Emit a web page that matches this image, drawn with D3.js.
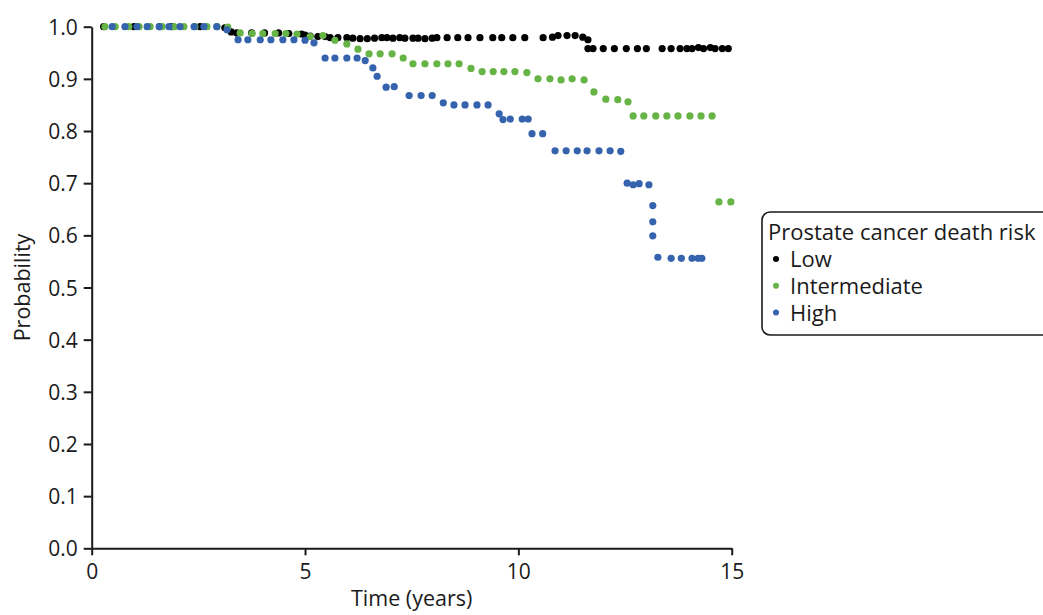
<!DOCTYPE html>
<html>
<head>
<meta charset="utf-8">
<script src="https://cdn.jsdelivr.net/npm/d3@7"></script>
<style>
  html, body { margin: 0; padding: 0; background: #fff; }
  svg { display: block; font-family: "Open Sans", "Noto Sans", sans-serif; }
</style>
</head>
<body>
<svg id="chart" width="1043" height="615"></svg>
<script>
// ---- data ----
const seriesNames = ["Low", "Intermediate", "High"];
const seriesColors = ["#000000", "#66b446", "#3563ae"];
const xTicks = [0, 5, 10, 15];
const yTicks = [0, 0.1, 0.2, 0.3, 0.4, 0.5, 0.6, 0.7, 0.8, 0.9, 1.0];

const lowTime = [0.28, 0.99, 1.60, 1.88, 2.54, 3.12, 3.27, 3.40, 3.75, 4.05, 4.38, 4.62, 4.92, 5.00, 5.12,
  5.30, 5.47, 5.59, 5.77, 5.98, 6.12, 6.29, 6.46, 6.63, 6.80, 6.92, 7.06, 7.22, 7.34, 7.53, 7.65, 7.81, 7.98,
  8.09, 8.33, 8.58, 8.82, 9.10, 9.40, 9.61, 9.87, 10.15, 10.58, 10.80, 10.93, 11.14, 11.33, 11.51, 11.63,
  11.63, 11.75, 11.99, 12.25, 12.53, 12.79, 13.00, 13.37, 13.58, 13.79, 13.95, 14.07, 14.22, 14.34, 14.50,
  14.61, 14.78, 14.92];
const lowProb = [1.0, 1.0, 1.0, 1.0, 1.0, 0.998, 0.99, 0.988, 0.988, 0.988, 0.988, 0.987, 0.986, 0.984, 0.982,
  0.981, 0.981, 0.979, 0.979, 0.979, 0.978, 0.977, 0.977, 0.978, 0.979, 0.979, 0.978, 0.979, 0.978, 0.978, 0.978, 0.977, 0.978,
  0.979, 0.979, 0.979, 0.979, 0.979, 0.979, 0.979, 0.979, 0.979, 0.979, 0.980, 0.983, 0.983, 0.983, 0.980, 0.975,
  0.958, 0.958, 0.958, 0.958, 0.958, 0.958, 0.958, 0.958, 0.958, 0.958, 0.958, 0.958, 0.960, 0.958, 0.960,
  0.958, 0.958, 0.958];

const intTime = [0.31, 0.55, 0.87, 1.11, 1.37, 1.65, 1.93, 2.16, 2.42, 2.70, 2.94, 3.19, 3.48, 3.76, 4.01,
  4.30, 4.55, 4.81, 5.12, 5.42, 5.70, 5.98, 6.24, 6.50, 6.76, 7.04, 7.30, 7.53, 7.81, 8.09, 8.35, 8.61, 8.89,
  9.15, 9.41, 9.66, 9.92, 10.20, 10.46, 10.74, 11.00, 11.26, 11.54, 11.77, 12.05, 12.33, 12.57, 12.69, 12.94,
  13.22, 13.48, 13.74, 14.02, 14.28, 14.54, 14.70, 14.98];
const intProb = [1.0, 1.0, 1.0, 1.0, 1.0, 1.0, 1.0, 1.0, 1.0, 1.0, 1.0, 0.999, 0.988, 0.987, 0.987,
  0.987, 0.987, 0.986, 0.981, 0.983, 0.974, 0.967, 0.957, 0.948, 0.948, 0.948, 0.940, 0.929, 0.929, 0.929, 0.929, 0.929, 0.920,
  0.914, 0.914, 0.914, 0.914, 0.912, 0.900, 0.900, 0.898, 0.900, 0.898, 0.875, 0.861, 0.860, 0.856, 0.829, 0.829,
  0.829, 0.829, 0.829, 0.829, 0.829, 0.829, 0.664, 0.664];

const highTime = [0.48, 0.78, 1.06, 1.30, 1.58, 1.81, 2.07, 2.40, 2.63, 2.93, 3.17, 3.43, 3.66, 3.95, 4.20,
  4.48, 4.74, 5.00, 5.21, 5.47, 5.70, 5.98, 6.22, 6.41, 6.59, 6.69, 6.90, 7.09, 7.44, 7.72, 7.98, 8.24, 8.49,
  8.75, 9.03, 9.29, 9.55, 9.64, 9.81, 10.09, 10.23, 10.32, 10.57, 10.86, 11.12, 11.38, 11.61, 11.89, 12.15,
  12.40, 12.55, 12.69, 12.83, 13.06, 13.15, 13.15, 13.15, 13.27, 13.58, 13.82, 14.07, 14.21, 14.30];
const highProb = [1.0, 1.0, 1.0, 1.0, 1.0, 1.0, 1.0, 1.0, 1.0, 1.0, 0.994, 0.975, 0.975, 0.975, 0.975,
  0.975, 0.975, 0.974, 0.969, 0.940, 0.940, 0.940, 0.940, 0.935, 0.921, 0.905, 0.884, 0.885, 0.868, 0.868, 0.868, 0.854, 0.850,
  0.850, 0.850, 0.850, 0.833, 0.822, 0.823, 0.823, 0.823, 0.795, 0.795, 0.762, 0.762, 0.762, 0.762, 0.762, 0.762,
  0.761, 0.700, 0.697, 0.699, 0.697, 0.657, 0.626, 0.599, 0.558, 0.556, 0.556, 0.556, 0.556, 0.556];

// ---- chart ----
const svg = d3.select("#chart");
const axisColor = "#1a1a1a";

const x = d3.scaleLinear().domain([0, 15]).range([91.7, 731.7]);
const y = d3.scaleLinear().domain([0, 1]).range([548.3, 26.7]);

const yAxis = svg.append("g")
  .attr("transform", `translate(${x(0)},0)`)
  .call(d3.axisLeft(y).tickValues(yTicks).tickFormat(d3.format(".1f")).tickSize(8).tickSizeOuter(0).tickPadding(6));
const xAxis = svg.append("g")
  .attr("transform", `translate(0,${y(0)})`)
  .call(d3.axisBottom(x).tickValues(xTicks).tickFormat(d3.format("d")).tickSize(7).tickSizeOuter(0).tickPadding(5));

[xAxis, yAxis].forEach(g => {
  g.select(".domain").attr("stroke", axisColor).attr("stroke-width", 2);
  g.selectAll(".tick line").attr("stroke", axisColor).attr("stroke-width", 2);
  g.selectAll(".tick text").attr("fill", axisColor).style("font-size", "21px")
    .style("font-family", "'Open Sans', 'Noto Sans', sans-serif");
});
xAxis.selectAll(".tick text").attr("dy", "0.9em");
yAxis.selectAll(".tick text").attr("dy", "0.36em");

// axis titles
svg.append("text")
  .attr("x", (x(0) + x(15)) / 2)
  .attr("y", 606)
  .attr("text-anchor", "middle")
  .attr("fill", axisColor)
  .style("font-size", "21.5px")
  .text("Time (years)");
svg.append("text")
  .attr("transform", `translate(30,${(y(0) + y(1)) / 2}) rotate(-90)`)
  .attr("text-anchor", "middle")
  .attr("fill", axisColor)
  .style("font-size", "21.5px")
  .text("Probability");

// points
const series = [
  { name: seriesNames[0], color: seriesColors[0], t: lowTime, p: lowProb },
  { name: seriesNames[1], color: seriesColors[1], t: intTime, p: intProb },
  { name: seriesNames[2], color: seriesColors[2], t: highTime, p: highProb }
];
series.forEach(s => {
  svg.append("g").selectAll("circle")
    .data(s.t.map((t, i) => ({ t, p: s.p[i] })))
    .join("circle")
    .attr("cx", d => x(d.t))
    .attr("cy", d => y(d.p))
    .attr("r", 3.6)
    .attr("fill", s.color);
});

// legend
const lg = svg.append("g");
lg.append("rect")
  .attr("x", 762).attr("y", 212)
  .attr("width", 300).attr("height", 123)
  .attr("rx", 8).attr("ry", 8)
  .attr("fill", "#fff").attr("stroke", axisColor).attr("stroke-width", 1.6);
lg.append("text")
  .attr("x", 768).attr("y", 240)
  .attr("fill", axisColor)
  .style("font-size", "22px")
  .text("Prostate cancer death risk");
series.forEach((s, i) => {
  const cy = 259 + i * 26.8;
  lg.append("circle").attr("cx", 776).attr("cy", cy).attr("r", 3).attr("fill", s.color);
  lg.append("text")
    .attr("x", 790).attr("y", cy)
    .attr("dy", "0.36em")
    .attr("fill", axisColor)
    .style("font-size", "22px")
    .text(s.name);
});
</script>
</body>
</html>
